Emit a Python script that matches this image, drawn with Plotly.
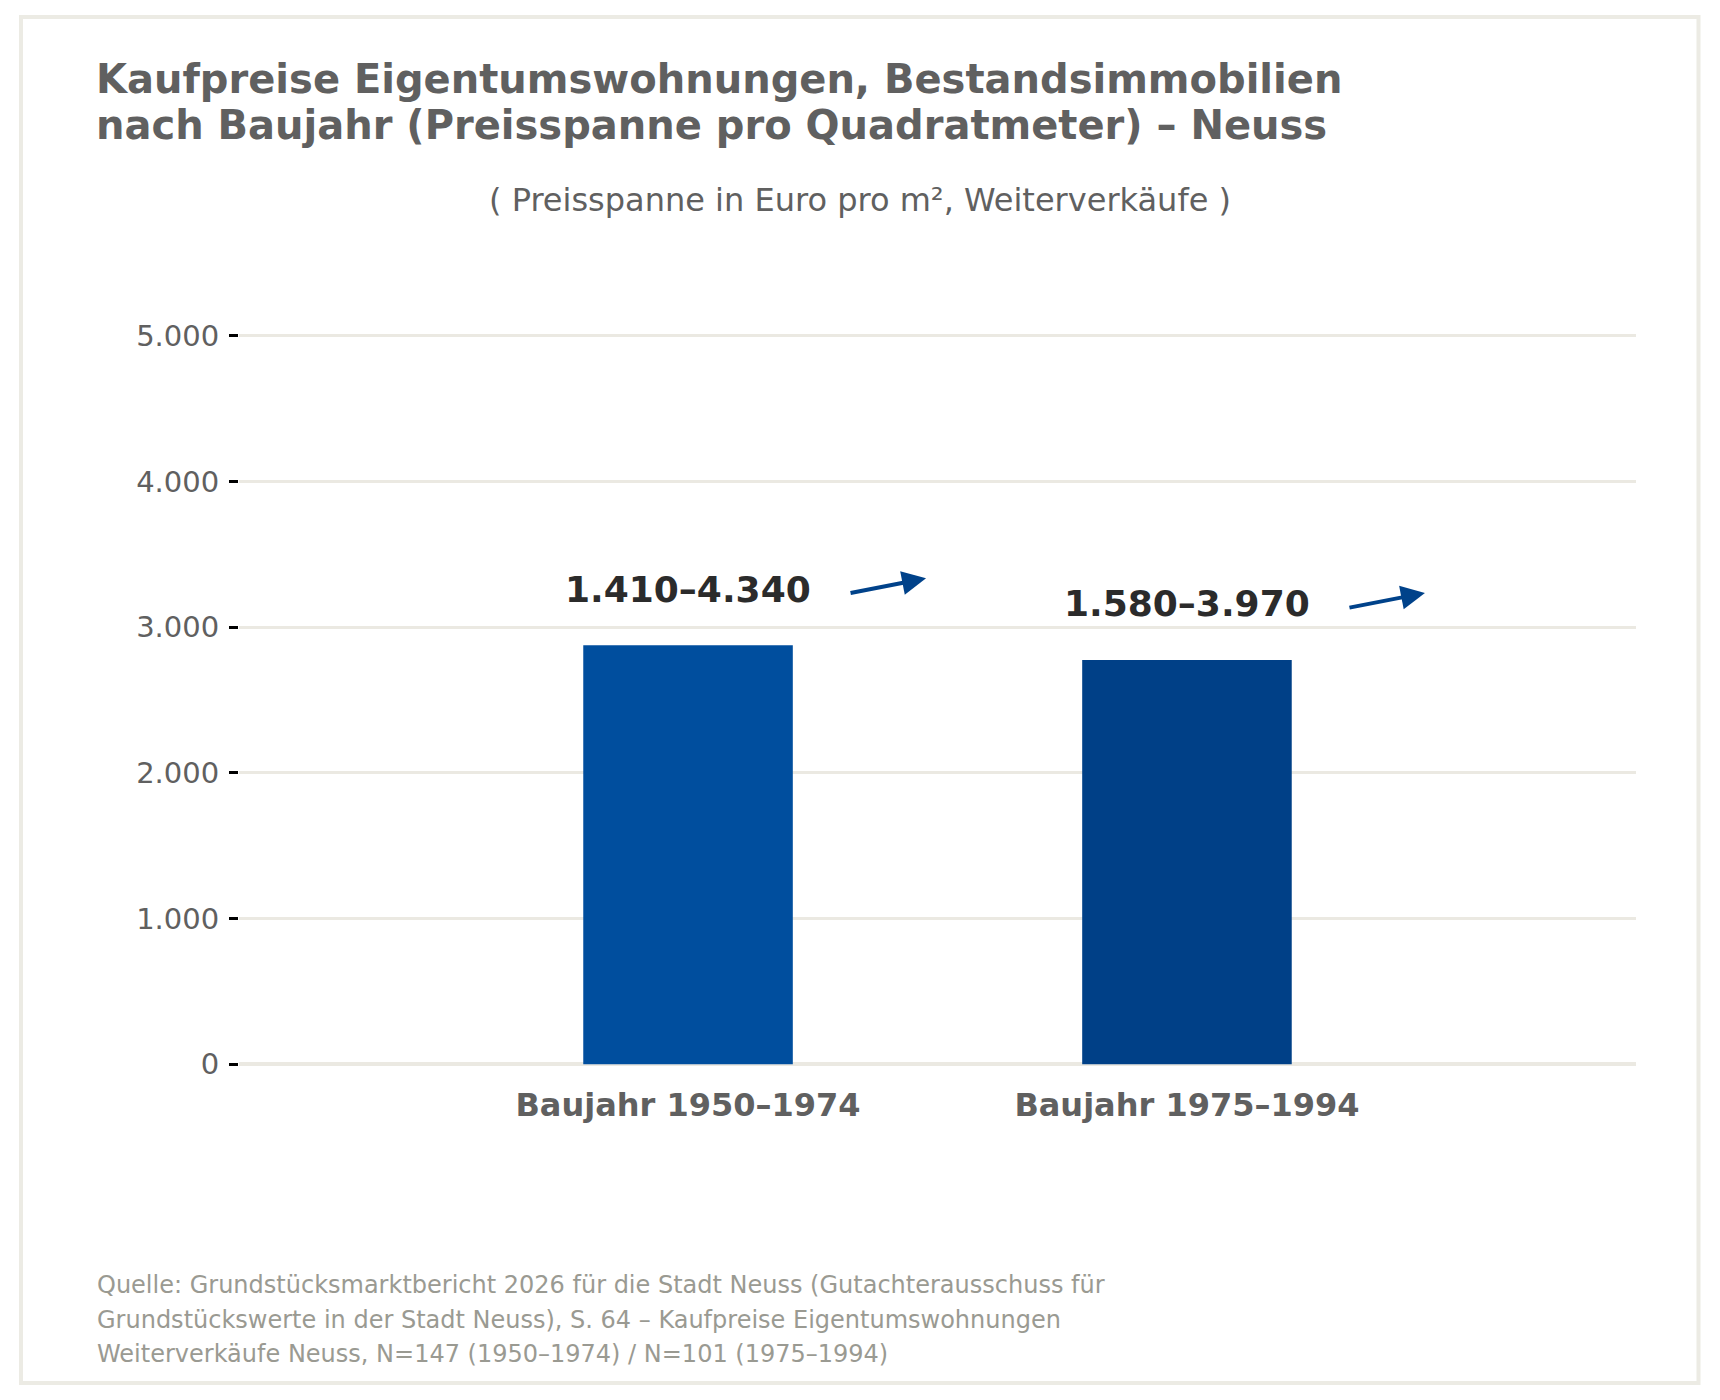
"""Kaufpreise Eigentumswohnungen nach Baujahr - Neuss (Balken = Mitte der Preisspanne)."""

import plotly.graph_objects as go

CATEGORIES = ["Baujahr 1950–1974", "Baujahr 1975–1994"]
PRICE_LOW = [1410, 1580]
PRICE_HIGH = [4340, 3970]
Y_TICKS = [0, 1000, 2000, 3000, 4000, 5000]
BAR_COLORS = ["#004e9e", "#004087"]

TITLE_LINES = [
    "Kaufpreise Eigentumswohnungen, Bestandsimmobilien",
    "nach Baujahr (Preisspanne pro Quadratmeter) – Neuss",
]
SUBTITLE = "( Preisspanne in Euro pro m², Weiterverkäufe )"
SOURCE_LINES = [
    "Quelle: Grundstücksmarktbericht 2026 für die Stadt Neuss (Gutachterausschuss für",
    "Grundstückswerte in der Stadt Neuss), S. 64 – Kaufpreise Eigentumswohnungen",
    "Weiterverkäufe Neuss, N=147 (1950–1974) / N=101 (1975–1994)",
]

# the html page keeps an 8px body margin, so the figure is a bit smaller
PAGE = 8
W, H = 1720 - PAGE, 1400 - PAGE
Y_RANGE = [-12, 5012]
PX_PER_UNIT = 728 / 5000
ZERO_Y = 1064  # screen y of value 0
M_L = 239 - PAGE
M_R = 1720 - 1636
M_T = round(ZERO_Y - Y_RANGE[1] * PX_PER_UNIT) - PAGE
M_B = round(1400 - (ZERO_Y - Y_RANGE[0] * PX_PER_UNIT))
PLOT_W = W - M_L - M_R
PLOT_H = H - M_T - M_B

FONT = "DejaVu Sans"
GREY = "#606060"
ARROW_BLUE = "#00428a"


def px_x(sx):
    return (sx - PAGE - M_L) / PLOT_W


def px_y(sy):
    return (H - M_B - (sy - PAGE)) / PLOT_H


def fmt(v):
    return f"{v:,}".replace(",", ".")


mid = [(lo + hi) / 2 for lo, hi in zip(PRICE_LOW, PRICE_HIGH)]

fig = go.Figure(
    go.Bar(
        x=CATEGORIES,
        y=mid,
        width=0.42,
        marker=dict(color=BAR_COLORS, line=dict(width=0)),
        hoverinfo="skip",
    )
)

annotations = []
for i, (lo, hi) in enumerate(zip(PRICE_LOW, PRICE_HIGH)):
    annotations.append(dict(
        x=CATEGORIES[i], y=mid[i], xref="x", yref="y",
        text=f"<b>{fmt(lo)}–{fmt(hi)}</b>", showarrow=False,
        yshift=56, yanchor="middle",
        font=dict(family=FONT, size=36, color="#2b2b2b"),
    ))
    # kleiner Trendpfeil neben der Spanne
    annotations.append(dict(
        x=CATEGORIES[i], y=mid[i], xref="x", yref="y",
        text="", showarrow=True, xshift=238, yshift=67,
        ax=-77, ay=15, arrowhead=2, arrowsize=1.2, arrowwidth=4,
        arrowcolor=ARROW_BLUE,
    ))

for line, yc in zip(TITLE_LINES, [79, 125]):
    annotations.append(dict(
        x=px_x(94), y=px_y(yc), xref="paper", yref="paper",
        text=f"<b>{line}</b>", showarrow=False,
        xanchor="left", yanchor="middle",
        font=dict(family=FONT, size=40, color=GREY),
    ))

annotations.append(dict(
    x=px_x(860), y=px_y(200), xref="paper", yref="paper",
    text=SUBTITLE, showarrow=False, xanchor="center", yanchor="middle",
    font=dict(family=FONT, size=32, color=GREY),
))

for line, yc in zip(SOURCE_LINES, [1285, 1320, 1354]):
    annotations.append(dict(
        x=px_x(95), y=px_y(yc), xref="paper", yref="paper",
        text=line, showarrow=False, xanchor="left", yanchor="middle",
        font=dict(family=FONT, size=24, color="#9a9a92"),
    ))

fig.update_layout(
    width=W,
    height=H,
    margin=dict(l=M_L, r=M_R, t=M_T, b=M_B, pad=0),
    paper_bgcolor="white",
    plot_bgcolor="white",
    font=dict(family=FONT, color=GREY),
    separators=",.",
    showlegend=False,
    annotations=annotations,
    shapes=[dict(
        type="rect", xref="paper", yref="paper",
        x0=px_x(21), x1=px_x(1698.5), y0=px_y(1383), y1=px_y(17),
        line=dict(color="#ecebe4", width=4), layer="below",
    )],
)

fig.update_xaxes(
    range=[-0.9, 1.9],
    showgrid=False,
    zeroline=False,
    showline=False,
    ticks="",
    tickfont=dict(family=FONT, size=32, color=GREY),
    tickprefix="<b>",
    ticksuffix="</b>",
    ticklabelstandoff=17,
)

fig.update_yaxes(
    range=Y_RANGE,
    tickvals=Y_TICKS,
    tickformat=",d",
    showgrid=True,
    gridcolor="#ebe9e2",
    gridwidth=3,
    zeroline=True,
    zerolinecolor="#ebe9e2",
    zerolinewidth=4,
    showline=False,
    ticks="outside",
    ticklen=9,
    tickwidth=2.5,
    tickcolor="black",
    ticklabelstandoff=4,
    tickfont=dict(family=FONT, size=29, color=GREY),
)

fig.write_html("out.html")
